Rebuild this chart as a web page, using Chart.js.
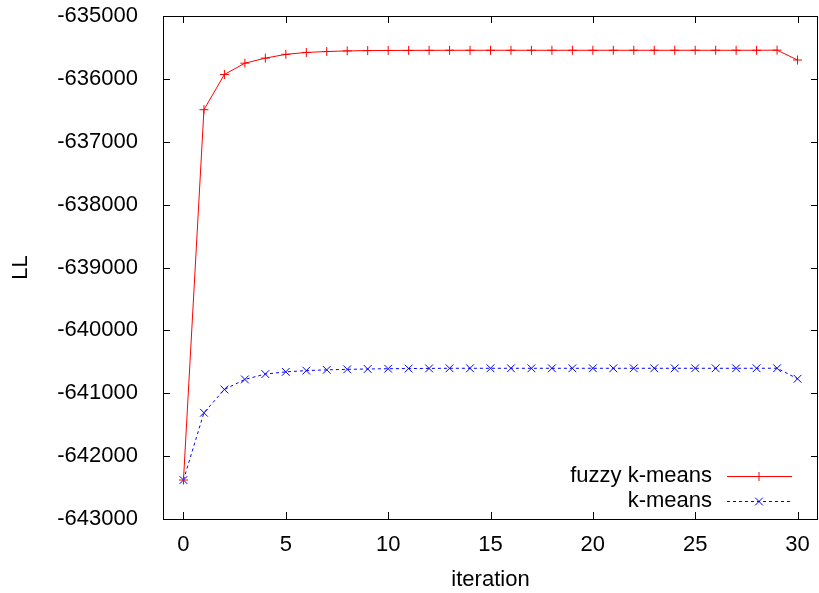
<!DOCTYPE html>
<html>
<head>
<meta charset="utf-8">
<script src="https://cdn.jsdelivr.net/npm/chart.js@4.4.1/dist/chart.umd.min.js"></script>
<style>
html, body { margin: 0; padding: 0; background: #fff; }
</style>
</head>
<body>
<canvas id="llChart" width="819" height="593"></canvas>
<script>
// iterations 0..30
const iterations = [0, 1, 2, 3, 4, 5, 6, 7, 8, 9, 10, 11, 12, 13, 14, 15,
    16, 17, 18, 19, 20, 21, 22, 23, 24, 25, 26, 27, 28, 29, 30];

const fuzzyLL = [-642380, -636490, -635930, -635750, -635670, -635610, -635580,
    -635565, -635555, -635550, -635548, -635547, -635546, -635545, -635545,
    -635545, -635545, -635545, -635545, -635545, -635545, -635545, -635545,
    -635545, -635545, -635545, -635545, -635545, -635545, -635543, -635700];

const kmeansLL = [-642380, -641310, -640940, -640780, -640695, -640660, -640640,
    -640628, -640620, -640614, -640610, -640607, -640605, -640603, -640603,
    -640603, -640603, -640603, -640603, -640603, -640603, -640603, -640603,
    -640603, -640603, -640603, -640603, -640603, -640603, -640602, -640770];

const seriesNames = ["fuzzy k-means", "k-means"];
const xTicks = [0, 5, 10, 15, 20, 25, 30];
const yTicks = [-643000, -642000, -641000, -640000, -639000, -638000, -637000, -636000, -635000];

Chart.defaults.font.family = "'Liberation Sans', Arial, sans-serif";
Chart.defaults.font.size = 22;
Chart.defaults.color = '#000';

// gnuplot-like border, inward mirror ticks and legend
const gnuplotFrame = {
    id: 'gnuplotFrame',
    afterDatasetsDraw(chart) {
        const ctx = chart.ctx;
        const area = chart.chartArea;
        const xs = chart.scales.x;
        const ys = chart.scales.y;
        const tl = 7;

        ctx.save();
        ctx.strokeStyle = '#000';
        ctx.lineWidth = 1;
        ctx.strokeRect(area.left + 0.5, area.top + 0.5, area.right - area.left - 1, area.bottom - area.top);

        ctx.beginPath();
        xTicks.forEach(v => {
            const px = Math.round(xs.getPixelForValue(v)) + 0.5;
            ctx.moveTo(px, area.bottom);
            ctx.lineTo(px, area.bottom - tl);
            ctx.moveTo(px, area.top);
            ctx.lineTo(px, area.top + tl);
        });
        yTicks.forEach(v => {
            const py = Math.round(ys.getPixelForValue(v)) + 0.5;
            ctx.moveTo(area.left, py);
            ctx.lineTo(area.left + tl, py);
            ctx.moveTo(area.right, py);
            ctx.lineTo(area.right - tl, py);
        });
        ctx.stroke();

        // legend, bottom right inside the plot
        ctx.font = "22px 'Liberation Sans', Arial, sans-serif";
        ctx.textAlign = 'right';
        ctx.textBaseline = 'middle';
        chart.data.datasets.forEach((ds, i) => {
            const y = area.bottom - 43 + i * 25;
            ctx.fillStyle = '#000';
            ctx.fillText(ds.label, area.right - 106, y);
            ctx.strokeStyle = ds.borderColor;
            ctx.lineWidth = ds.borderWidth;
            ctx.setLineDash(ds.borderDash || []);
            ctx.beginPath();
            ctx.moveTo(area.right - 91, y + 0.5);
            ctx.lineTo(area.right - 26, y + 0.5);
            ctx.stroke();
            ctx.setLineDash([]);
            Chart.helpers.drawPoint(ctx, {
                pointStyle: ds.pointStyle,
                radius: ds.pointRadius,
                borderWidth: 1,
                rotation: 0
            }, area.right - 59, y + 0.5);
        });
        ctx.restore();
    }
};

const ctx = document.getElementById('llChart').getContext('2d');
const myChart = new Chart(ctx, {
    type: 'line',
    data: {
        labels: iterations,
        datasets: [
            {
                label: seriesNames[0],
                data: iterations.map((x, i) => ({ x: x, y: fuzzyLL[i] })),
                borderColor: '#ff0000',
                backgroundColor: '#ff0000',
                borderWidth: 1,
                pointStyle: 'cross',
                pointRadius: 4.5,
                pointBorderWidth: 1,
                tension: 0,
                fill: false
            },
            {
                label: seriesNames[1],
                data: iterations.map((x, i) => ({ x: x, y: kmeansLL[i] })),
                borderColor: '#0000ff',
                backgroundColor: '#0000ff',
                borderWidth: 1,
                borderDash: [3, 3],
                pointStyle: 'crossRot',
                pointRadius: 5.5,
                pointBorderWidth: 1,
                tension: 0,
                fill: false
            }
        ]
    },
    options: {
        responsive: false,
        animation: false,
        layout: { autoPadding: false, padding: { left: 0, right: 1, top: 16, bottom: 0 } },
        plugins: {
            legend: { display: false },
            tooltip: { enabled: false }
        },
        scales: {
            x: {
                type: 'linear',
                min: -1,
                max: 31,
                grid: { display: false },
                border: { display: false },
                afterBuildTicks: scale => { scale.ticks = xTicks.map(v => ({ value: v })); },
                afterFit: scale => {
                    scale.height = 74;
                    scale.paddingLeft = 0;
                    scale.paddingRight = 0;
                },
                ticks: { padding: 5, maxRotation: 0, autoSkip: false },
                title: { display: true, text: 'iteration', padding: { top: 0, bottom: 0 } }
            },
            y: {
                type: 'linear',
                min: -643000,
                max: -635000,
                grid: { display: false },
                border: { display: false },
                afterBuildTicks: scale => { scale.ticks = yTicks.map(v => ({ value: v })); },
                afterFit: scale => {
                    scale.width = 163;
                    scale.paddingTop = 0;
                    scale.paddingBottom = 0;
                },
                ticks: { padding: 17, callback: v => String(v) },
                title: { display: true, text: 'LL', padding: { top: 8, bottom: 0 } }
            }
        }
    },
    plugins: [gnuplotFrame]
});
</script>
</body>
</html>
